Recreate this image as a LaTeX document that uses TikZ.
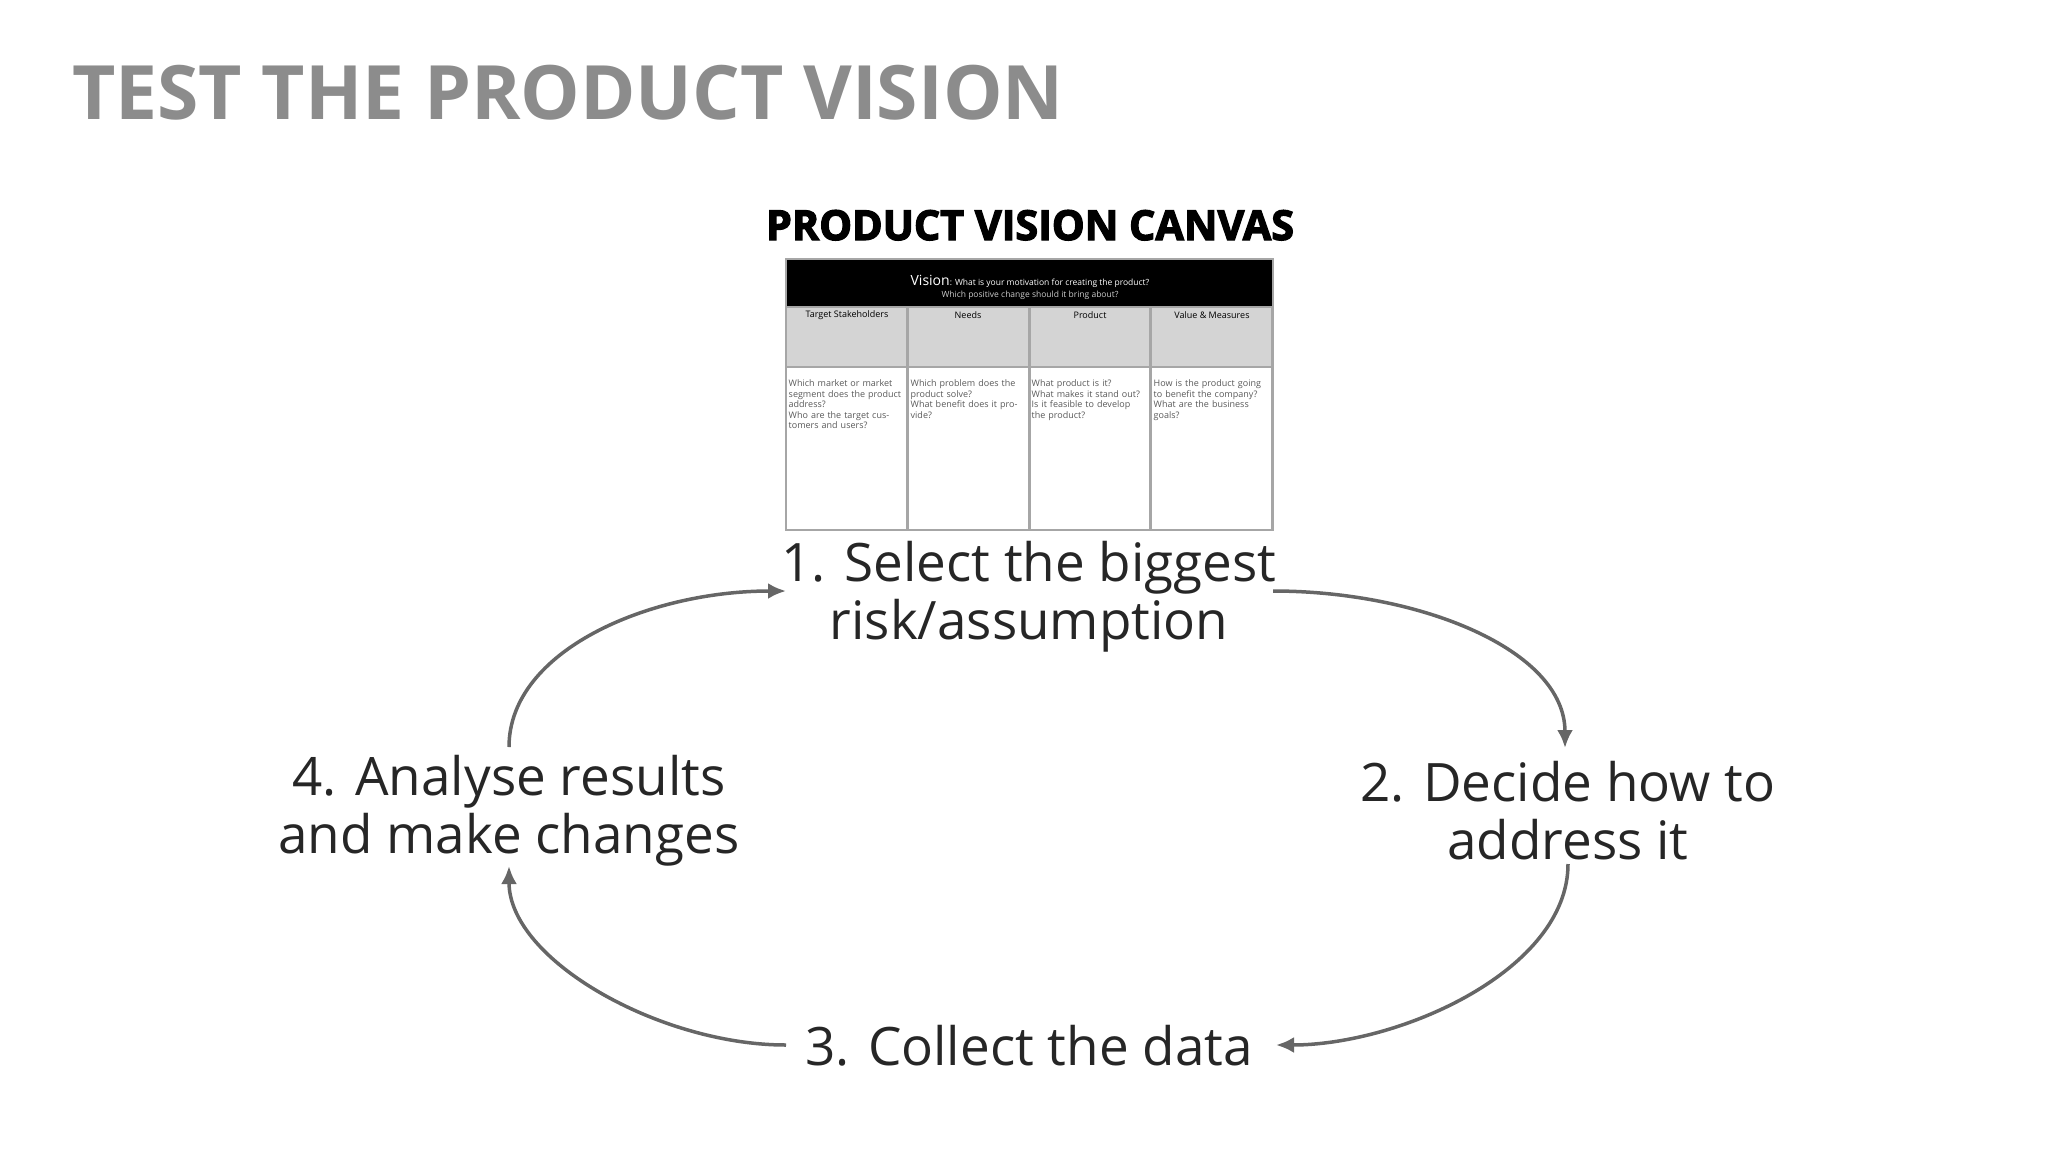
\documentclass[tikz,border=0pt]{standalone}
\usepackage{fontspec}
\setmainfont{Open Sans}
\begin{document}
\begin{tikzpicture}[x=1pt,y=-1pt,
  lbl/.style={font=\fontsize{53}{58}\selectfont, text=black!85, align=center},
  arc/.style={draw=black!60, line width=3.5pt, -{Latex[length=18pt,width=16pt]}},
  cell/.style={draw=black!35, line width=2.5pt},
  small/.style={font=\fontsize{9}{10.5}\selectfont, text=black!65, align=left, anchor=north west, text width=114pt, inner sep=1.5pt}]
\usetikzlibrary{arrows.meta}
\useasboundingbox (0,0) rectangle (2048,1152);
\node[anchor=base west, text=black!45, font=\fontsize{75}{80}\bfseries\selectfont, inner sep=0] (title) at (72,119) {TEST THE PRODUCT VISION};
\node[anchor=base, inner sep=0] (ctitle) at (1030,240) {\resizebox{528pt}{!}{\fontsize{48}{50}\fontspec{Open Sans}[FakeBold=3]\bfseries PRODUCT VISION CANVAS}};
% canvas
\fill[black] (786,259) rectangle (1273,307);
\fill[black!17] (786,307) rectangle (1273,367);
\foreach \x in {786,908,1029,1151} {
  \draw[cell] (\x,307) rectangle ++(121.7,60);
  \draw[cell] (\x,367) rectangle ++(121.7,163);
}
\draw[black!35, line width=2.5pt] (786,259) rectangle (1273,530);
\node[text=white, font=\fontsize{14}{15}\selectfont, inner sep=0] (vis) at (1030,281) {Vision\fontsize{8.5}{10}\selectfont: What is your motivation for creating the product?};
\node[text=white!80!black, font=\fontsize{8.5}{10}\selectfont, inner sep=0] (vis2) at (1030,295) {Which positive change should it bring about?};
\foreach \x/\t in {847/Target Stakeholders,968/Needs,1090/Product,1212/Value \& Measures}
  \node[font=\fontsize{9}{10}\selectfont, inner sep=0] at (\x,315) {\t};
\node[small] (b1) at (787,378) {Which market or market segment does the product address?\\Who are the target customers and users?};
\node[small] (b2) at (909,378) {Which problem does the product solve?\\What benefit does it provide?};
\node[small] (b3) at (1030,378) {What product is it?\\What makes it stand out?\\Is it feasible to develop the product?};
\node[small] (b4) at (1152,378) {How is the product going to benefit the company?\\What are the business goals?};
% labels
\node[lbl] (s1) at (1029,597) {1. Select the biggest\\risk/assumption};
\node[lbl] (s2) at (1568,811) {2. Decide how to\\address it};
\node[lbl] (s3) at (1029,1046) {3. Collect the data};
\node[lbl] (s4) at (509,811) {4. Analyse results\\and make changes};
\coordinate (a1s) at (1273,591); \coordinate (a1e) at (1565,748);
\coordinate (a2s) at (1568,864); \coordinate (a2e) at (1276,1045);
\coordinate (a3s) at (786,1045); \coordinate (a3e) at (509,866);
\coordinate (a4s) at (509,747); \coordinate (a4e) at (786,591);
\draw[arc] (a1s) .. controls (1420,591) and (1565,650) .. (a1e);
\draw[arc] (a2s) .. controls (1568,970) and (1400,1045) .. (a2e);
\draw[arc] (a3s) .. controls (660,1045) and (509,960) .. (a3e);
\draw[arc] (a4s) .. controls (509,650) and (650,591) .. (a4e);
\end{tikzpicture}
\end{document}
